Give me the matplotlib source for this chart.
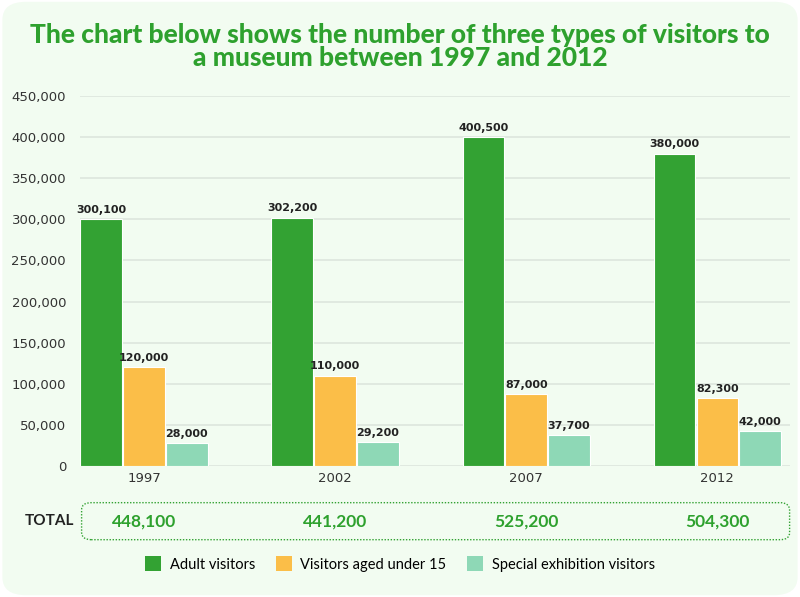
import matplotlib.pyplot as plt
import numpy as np
from matplotlib.patches import FancyBboxPatch

years = ["1997", "2002", "2007", "2012"]
adult = [300100, 302200, 400500, 380000]
under15 = [120000, 110000, 87000, 82300]
special = [28000, 29200, 37700, 42000]
totals = ["448,100", "441,200", "525,200", "504,300"]
series_names = ["Adult visitors", "Visitors aged under 15", "Special exhibition visitors"]
colors = ["#33a233", "#fbbe48", "#8ed8b6"]

title = "The chart below shows the number of three types of visitors to\na museum between 1997 and 2012"
green_text = "#2ea12e"

fig = plt.figure(figsize=(8, 5.97), dpi=100)
fig.patch.set_facecolor("white")

# rounded light green card behind everything
card = FancyBboxPatch((0.003, 0.003), 0.994, 0.994, boxstyle="round,pad=0,rounding_size=0.03",
                      transform=fig.transFigure, facecolor="#f2fcf1", edgecolor="none", zorder=-10)
fig.patches.append(card)

ax = fig.add_axes([0.1, 0.2194, 0.8875, 0.6198])
ax.set_facecolor("none")

x = np.arange(len(years))
w = 0.218
for i, (vals, c) in enumerate(zip([adult, under15, special], colors)):
    pos = x + (i - 1) * (w + 0.006)
    bars = ax.bar(pos, vals, width=w, color=c, edgecolor="white", linewidth=0.8, label=series_names[i], zorder=3)
    for b, v in zip(bars, vals):
        ax.text(b.get_x() + b.get_width() / 2, v + 5000, f"{v:,}", ha="center", va="bottom",
                fontsize=8, fontweight="bold", color="#222222", zorder=4)

ax.set_ylim(0, 450000)
ax.set_xlim(-0.335, 3.38)
ax.set_yticks(np.arange(0, 450001, 50000))
ax.set_yticklabels([f"{v:,}" for v in range(0, 450001, 50000)])
ax.set_xticks(x)
ax.set_xticklabels(years)
ax.tick_params(axis="both", length=0, labelsize=9.5, colors="#333333")
ax.tick_params(axis="y", pad=10)
ax.tick_params(axis="x", pad=4)
ax.grid(axis="y", color="#dfe8df", linewidth=1.3, zorder=0)
for s in ax.spines.values():
    s.set_visible(False)

fig.text(0.5, 0.922, title, ha="center", va="center", fontsize=19, fontweight="black",
         family="Lato", color=green_text, linespacing=0.95)

# totals row
box = FancyBboxPatch((0.102, 0.096), 0.885, 0.062, boxstyle="round,pad=0,rounding_size=0.012",
                     transform=fig.transFigure, facecolor="none", edgecolor="#33a233",
                     linestyle=(0, (1, 1.2)), linewidth=1.0)
fig.patches.append(box)
fig.text(0.093, 0.127, "TOTAL", ha="right", va="center", fontsize=11, fontweight="bold",
         family="Lato", color="#222222")
for xi, t in zip(x, totals):
    xf = fig.transFigure.inverted().transform(ax.transData.transform((xi, 0)))[0]
    fig.text(xf, 0.127, t, ha="center", va="center", fontsize=12.5, fontweight="bold",
             family="Lato", color=green_text)

leg = fig.legend(loc="center", bbox_to_anchor=(0.5, 0.055), ncol=3, frameon=False,
                 handlelength=1.1, handleheight=1.2, columnspacing=1.4,
                 handletextpad=0.6, prop={"family": "Lato", "size": 10.5})
for h in leg.legend_handles:
    h.set_edgecolor("none")

fig.savefig("out.png", dpi=100)
